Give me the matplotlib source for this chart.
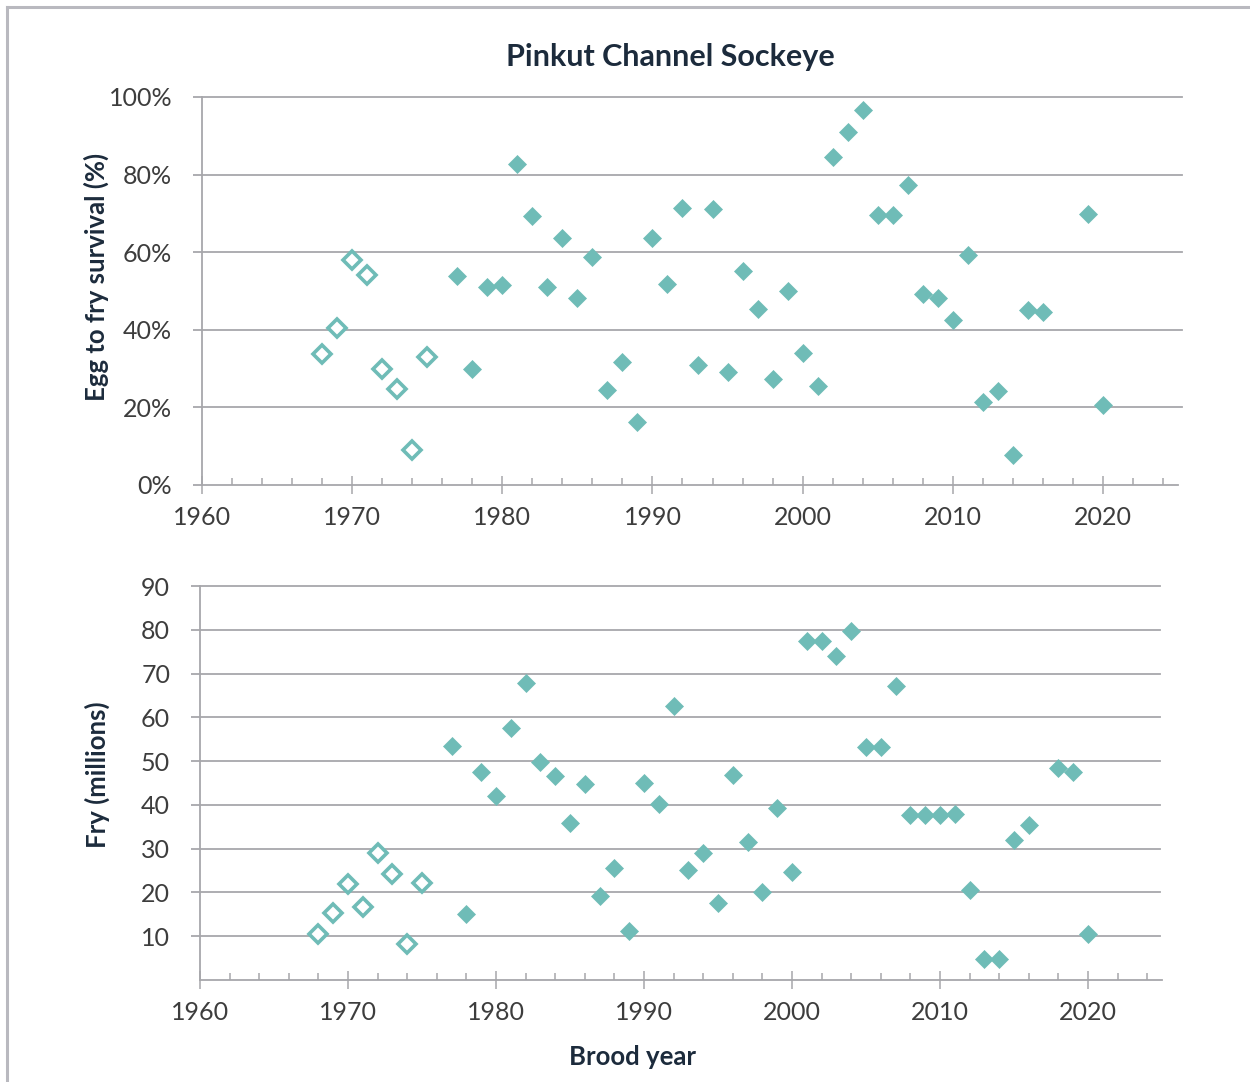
"""Pinkut Channel sockeye: egg-to-fry survival and fry output by brood year."""

import matplotlib

matplotlib.use("Agg")
import matplotlib.pyplot as plt
from matplotlib.lines import Line2D
from matplotlib.ticker import FuncFormatter, MultipleLocator

TEAL = "#6fbcb7"
GRID = "#a7a7ab"
NAVY = "#1c2b3c"
TICK_TEXT = "#3d3d3d"

# early brood years (hollow markers)
early_years = [1968, 1969, 1970, 1971, 1972, 1973, 1974, 1975]
early_survival = [33.7, 40.4, 58.1, 54.1, 29.9, 24.7, 8.9, 33.1]
early_fry = [10.4, 15.2, 21.9, 16.7, 29.0, 24.2, 8.3, 22.2]

# later brood years (filled markers), survival panel
surv_years = [
    1977, 1978, 1979, 1980, 1981, 1982, 1983, 1984, 1985, 1986,
    1987, 1988, 1989, 1990, 1991, 1992, 1993, 1994, 1995, 1996,
    1997, 1998, 1999, 2000, 2001, 2002, 2003, 2004, 2005, 2006,
    2007, 2008, 2009, 2010, 2011, 2012, 2013, 2014, 2015, 2016,
    2019, 2020,
]
survival = [
    53.9, 29.9, 51.1, 51.6, 82.8, 69.4, 51.1, 63.6, 48.1, 58.7,
    24.4, 31.6, 16.1, 63.6, 51.7, 71.3, 30.8, 71.1, 29.0, 55.2,
    45.3, 27.4, 50.1, 34.1, 25.4, 84.6, 90.9, 96.7, 69.6, 69.6,
    77.3, 49.1, 48.1, 42.5, 59.3, 21.3, 24.1, 7.7, 45.2, 44.6,
    69.9, 20.6,
]

# later brood years (filled markers), fry panel
fry_years = [
    1977, 1978, 1979, 1980, 1981, 1982, 1983, 1984, 1985, 1986,
    1987, 1988, 1989, 1990, 1991, 1992, 1993, 1994, 1995, 1996,
    1997, 1998, 1999, 2000, 2001, 2002, 2003, 2004, 2005, 2006,
    2007, 2008, 2009, 2010, 2011, 2012, 2013, 2014, 2015, 2016,
    2018, 2019, 2020,
]
fry = [
    53.5, 15.1, 47.4, 42.1, 57.6, 67.9, 49.7, 46.5, 35.9, 44.8,
    19.2, 25.6, 11.2, 45.0, 40.3, 62.5, 25.1, 28.9, 17.6, 46.8,
    31.6, 20.0, 39.3, 24.7, 77.4, 77.4, 74.1, 79.8, 53.3, 53.3,
    67.1, 37.8, 37.8, 37.8, 38.0, 20.5, 4.9, 4.9, 31.9, 35.3,
    48.5, 47.5, 10.5,
]

plt.rcParams["font.family"] = ["Lato", "DejaVu Sans"]


def style_axes(ax, yticks, ymax, grid_end):
    ax.set_xlim(1960, 2025)
    ax.set_ylim(0, ymax)
    for side in ("top", "right"):
        ax.spines[side].set_visible(False)
    for side in ("left", "bottom"):
        ax.spines[side].set_color(GRID)
        ax.spines[side].set_linewidth(1.3)
    ax.xaxis.set_major_locator(MultipleLocator(10))
    ax.xaxis.set_minor_locator(MultipleLocator(2))
    ax.set_yticks(yticks)
    ax.tick_params(axis="x", which="major", direction="inout", length=13,
                   width=1.1, color=GRID, pad=9, labelsize=18,
                   labelcolor=TICK_TEXT)
    ax.tick_params(axis="x", which="minor", direction="in", length=5,
                   width=1.1, color=GRID)
    ax.tick_params(axis="y", which="major", direction="out", length=6.5,
                   width=1.3, color=GRID, pad=15, labelsize=18,
                   labelcolor=TICK_TEXT)
    for y in yticks:
        if y == 0:
            continue
        ax.plot([0, grid_end], [y, y], transform=ax.get_yaxis_transform(),
                color=GRID, lw=1.3, clip_on=False, zorder=1)


def draw_points(ax, ex, ey, fx, fy):
    ax.plot(ex, ey, ls="none", marker="D", ms=9.0, mfc="white",
            mec=TEAL, mew=2.6, zorder=3)
    ax.plot(fx, fy, ls="none", marker="D", ms=9.6, mfc=TEAL,
            mec=TEAL, mew=0.5, zorder=3)


fig = plt.figure(figsize=(12.5, 10.82), dpi=100)

ax1 = fig.add_axes([0.1616, 0.5518, 0.7808, 0.3586])
style_axes(ax1, [0, 20, 40, 60, 80, 100], 100, 1.004)
ax1.yaxis.set_major_formatter(FuncFormatter(lambda v, _: f"{v:.0f}%"))
draw_points(ax1, early_years, early_survival, surv_years, survival)
ax1.set_ylabel("Egg to fry survival (%)", fontsize=18.5, fontweight="bold",
               color=NAVY)
ax1.yaxis.set_label_coords(-0.095, 0.535)

ax2 = fig.add_axes([0.16, 0.0943, 0.7696, 0.3641])
style_axes(ax2, [10, 20, 30, 40, 50, 60, 70, 80, 90], 90, 0.998)
draw_points(ax2, early_years, early_fry, fry_years, fry)
ax2.set_ylabel("Fry (millions)", fontsize=18.5, fontweight="bold", color=NAVY)
ax2.yaxis.set_label_coords(-0.0935, 0.52)

fig.text(670 / 1250, 1 - 57 / 1082, "Pinkut Channel Sockeye", ha="center",
         va="center", fontsize=22, fontweight="bold", color=NAVY)
fig.text(632 / 1250, 1 - 1057 / 1082, "Brood year", ha="center",
         va="center", fontsize=18.5, fontweight="bold", color=NAVY)

# light frame around the figure (left and top edges)
frame = "#b9b9bf"
fig.add_artist(Line2D([7 / 1250, 7 / 1250], [0, 1 - 7 / 1082],
                      transform=fig.transFigure, color=frame, lw=2.2))
fig.add_artist(Line2D([7 / 1250, 1], [1 - 7 / 1082, 1 - 7 / 1082],
                      transform=fig.transFigure, color=frame, lw=2.2))

fig.savefig("out.png", dpi=100, facecolor="white")
